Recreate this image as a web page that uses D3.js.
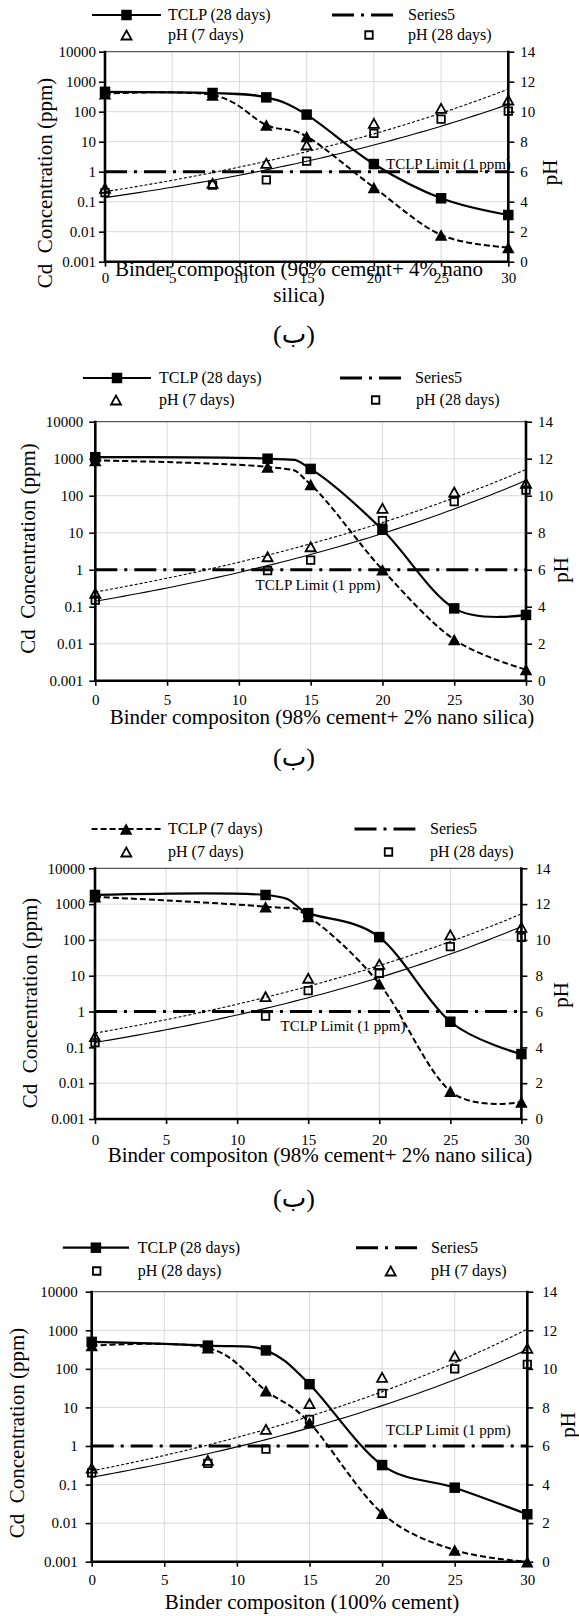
<!DOCTYPE html>
<html>
<head>
<meta charset="utf-8">
<script src="https://cdn.jsdelivr.net/npm/d3@7"></script>
<style>
  body { margin: 0; background: #fff; }
  svg { display: block; }
  svg text { font-family: "Liberation Serif", "Times New Roman", serif; fill: #000; }
</style>
</head>
<body>
<svg id="chart" width="579" height="1616" font-family="Liberation Serif"></svg>
<script>
// ---- shared axis ticks ----
const binderTicks = [0, 5, 10, 15, 20, 25, 30];
const concTicks = [0.001, 0.01, 0.1, 1, 10, 100, 1000, 10000];
const phTicks = [0, 2, 4, 6, 8, 10, 12, 14];
const tclpLimit = 1;

// ---- 96% cement + 4% nano silica ----
const xA = [0, 8, 12, 15, 20, 25, 30];
const tclp28A = [460, 420, 300, 80, 1.8, 0.13, 0.036];
const tclp7A = [400, 360, 36, 15, 0.3, 0.0078, 0.003];
const ph7A = [4.89, 5.22, 6.56, 7.78, 9.22, 10.22, 10.78];
const ph28A = [4.6, 5.11, 5.45, 6.71, 8.56, 9.51, 10.04];

// ---- 98% cement + 2% nano silica (TCLP 28 days legend) ----
const xB = [0, 12, 15, 20, 25, 30];
const tclp28B = [1100, 1000, 530, 12, 0.09, 0.06];
const tclp7B = [900, 600, 200, 1.0, 0.013, 0.002];
const ph7B = [4.72, 6.7, 7.24, 9.32, 10.2, 10.67];
const ph28B = [4.36, 5.95, 6.52, 8.65, 9.68, 10.3];

// ---- 98% cement + 2% nano silica (TCLP 7 days legend) ----
const xC = [0, 12, 15, 20, 25, 30];
const tclp28C = [1800, 1800, 560, 120, 0.52, 0.065];
const tclp7C = [1600, 850, 450, 6, 0.006, 0.003];
const ph7C = [4.6, 6.83, 7.86, 8.64, 10.28, 10.7];
const ph28C = [4.26, 5.75, 7.17, 8.14, 9.63, 10.15];

// ---- 100% cement ----
const xD = [0, 8, 12, 15, 20, 25, 30];
const tclp28D = [500, 400, 300, 40, 0.32, 0.083, 0.017];
const tclp7D = [400, 350, 27, 4, 0.018, 0.002, 0.001];
const ph7D = [4.85, 5.25, 6.86, 8.2, 9.56, 10.66, 11.06];
const ph28D = [4.61, 5.1, 5.84, 7.38, 8.73, 10.0, 10.23];

const SERIF = '"Liberation Serif", "Times New Roman", serif';
const svg = d3.select("#chart");
svg.append("rect").attr("width", 579).attr("height", 1616).attr("fill", "#fff");

// Exponential least-squares trendline: ln(y) = a + b x
function expFit(xs, ys) {
  const ly = ys.map(Math.log);
  const mx = d3.mean(xs), my = d3.mean(ly);
  let sxy = 0, sxx = 0;
  xs.forEach((x, i) => { sxy += (x - mx) * (ly[i] - my); sxx += (x - mx) * (x - mx); });
  const b = sxy / sxx, a = my - b * mx;
  return x => Math.exp(a + b * x);
}

function squarePath(s) { return `M${-s/2},${-s/2}h${s}v${s}h${-s}Z`; }
function triPath(w, h) { return `M0,${-h/2}L${w/2},${h/2}L${-w/2},${h/2}Z`; }

function drawMarker(g, kind, x, y) {
  if (kind === "sqFill") {
    g.append("path").attr("d", squarePath(10.5)).attr("transform", `translate(${x},${y})`)
      .attr("fill", "#000");
  } else if (kind === "triFill") {
    g.append("path").attr("d", triPath(12.5, 11.5)).attr("transform", `translate(${x},${y})`)
      .attr("fill", "#000");
  } else if (kind === "triOpen") {
    g.append("path").attr("d", triPath(10, 9)).attr("transform", `translate(${x},${y})`)
      .attr("fill", "none").attr("stroke", "#000").attr("stroke-width", 1.8);
  } else if (kind === "sqOpen") {
    g.append("path").attr("d", squarePath(7.5)).attr("transform", `translate(${x},${y})`)
      .attr("fill", "none").attr("stroke", "#000").attr("stroke-width", 1.8);
  }
}

function addText(g, size) {
  return g.append("text").attr("font-family", SERIF).style("font-family", SERIF)
    .style("font-size", size + "px").attr("fill", "#000");
}

const limitDash = "22,7,3,7";

function drawPanel(p) {
  const g = svg.append("g");
  const x = d3.scaleLinear().domain([0, 30]).range([p.left, p.right]);
  const yC = d3.scaleLog().domain([0.001, 10000]).range([p.bottom, p.top]);
  const yP = d3.scaleLinear().domain([0, 14]).range([p.bottom, p.top]);

  // gridlines
  g.selectAll(null).data(concTicks.slice(1, -1)).join("line")
    .attr("x1", p.left).attr("x2", p.right)
    .attr("y1", d => yC(d)).attr("y2", d => yC(d))
    .attr("stroke", "#d9d9d9").attr("stroke-width", 1);
  g.selectAll(null).data(binderTicks.slice(1, -1)).join("line")
    .attr("y1", p.top).attr("y2", p.bottom)
    .attr("x1", d => x(d)).attr("x2", d => x(d))
    .attr("stroke", "#d9d9d9").attr("stroke-width", 1);
  g.append("line").attr("x1", p.left).attr("x2", p.right)
    .attr("y1", p.top).attr("y2", p.top).attr("stroke", "#595959").attr("stroke-width", 1.3);

  // axes (ticks and labels), axis lines drawn separately below
  const left = d3.axisLeft(yC).tickValues(concTicks).tickFormat(d => String(d)).tickSize(6).tickPadding(p.padL);
  const right = d3.axisRight(yP).tickValues(phTicks).tickSize(6).tickPadding(p.padR);
  const bottom = d3.axisBottom(x).tickValues(binderTicks).tickSize(5).tickPadding(p.padB);
  [[left, `translate(${p.left},0)`], [right, `translate(${p.right},0)`], [bottom, `translate(0,${p.bottom})`]]
    .forEach(([ax, tr]) => {
      const a = g.append("g").attr("transform", tr).call(ax).attr("font-family", SERIF);
      a.select(".domain").remove();
      a.selectAll(".tick line").attr("stroke", "#000").attr("stroke-width", 1.6);
      a.selectAll(".tick text").style("font-family", SERIF).style("font-size", "15px").attr("fill", "#000");
    });
  g.append("line").attr("x1", p.left).attr("x2", p.left).attr("y1", p.top - 1).attr("y2", p.bottom + 1)
    .attr("stroke", "#000").attr("stroke-width", 2.6);
  g.append("line").attr("x1", p.right).attr("x2", p.right).attr("y1", p.top - 1).attr("y2", p.bottom + 1)
    .attr("stroke", "#000").attr("stroke-width", 2.6);
  g.append("line").attr("x1", p.left).attr("x2", p.right).attr("y1", p.bottom).attr("y2", p.bottom)
    .attr("stroke", "#000").attr("stroke-width", 2.6);

  // exponential trendlines for pH
  const fit7 = expFit(p.xs, p.ph7), fit28 = expFit(p.xs, p.ph28);
  const tx = d3.range(0, 30.01, 0.5);
  const trend = d3.line().x(d => x(d[0])).y(d => yP(d[1]));
  g.append("path").attr("d", trend(tx.map(v => [v, fit28(v)])))
    .attr("fill", "none").attr("stroke", "#000").attr("stroke-width", 1.1);
  g.append("path").attr("d", trend(tx.map(v => [v, fit7(v)])))
    .attr("fill", "none").attr("stroke", "#000").attr("stroke-width", 1.1).attr("stroke-dasharray", "3,2");

  // TCLP limit (Series5)
  g.append("line").attr("x1", x(0)).attr("x2", x(30)).attr("y1", yC(tclpLimit)).attr("y2", yC(tclpLimit))
    .attr("stroke", "#000").attr("stroke-width", 3).attr("stroke-dasharray", limitDash);
  addText(g, 15).attr("x", p.limitX).attr("y", p.limitY).attr("text-anchor", p.limitAnchor)
    .text("TCLP Limit (1 ppm)");

  // smoothed TCLP curves
  const smooth = d3.line().x(d => x(d[0])).y(d => yC(d[1])).curve(d3.curveCardinal.tension(0));
  g.append("path").attr("d", smooth(p.xs.map((v, i) => [v, p.t7[i]])))
    .attr("fill", "none").attr("stroke", "#000").attr("stroke-width", 2).attr("stroke-dasharray", "6,3");
  g.append("path").attr("d", smooth(p.xs.map((v, i) => [v, p.t28[i]])))
    .attr("fill", "none").attr("stroke", "#000").attr("stroke-width", 2.2);

  // markers
  p.xs.forEach((v, i) => drawMarker(g, "sqOpen", x(v), yP(p.ph28[i])));
  p.xs.forEach((v, i) => drawMarker(g, "triOpen", x(v), yP(p.ph7[i])));
  p.xs.forEach((v, i) => drawMarker(g, "triFill", x(v), yC(p.t7[i])));
  p.xs.forEach((v, i) => drawMarker(g, "sqFill", x(v), yC(p.t28[i])));

  // axis titles
  addText(g, 21).attr("transform", `translate(${p.yTitle[0]},${p.yTitle[1]}) rotate(-90)`)
    .attr("text-anchor", "middle").attr("dy", "0.35em").style("white-space", "pre")
    .text("Cd  Concentration (ppm)");
  addText(g, 21).attr("transform", `translate(${p.phTitle[0]},${p.phTitle[1]}) rotate(-90)`)
    .attr("text-anchor", "middle").attr("dy", "0.35em").text("pH");
  p.xTitle.forEach(([t, cx, by]) => {
    addText(g, 21).attr("x", cx).attr("y", by).attr("text-anchor", "middle").text(t);
  });
  if (p.caption) {
    g.append("text").attr("x", p.caption[0]).attr("y", p.caption[1]).attr("text-anchor", "middle")
      .style("font-family", '"Liberation Serif", "DejaVu Serif", "DejaVu Sans", serif')
      .style("font-size", "26px").attr("dy", "0.35em").text("(ب)");
  }

  // legend
  p.legend.forEach(it => {
    const ly = p.legendRows[it.row];
    if (it.type === "tclp28") {
      g.append("line").attr("x1", it.x0).attr("x2", it.x1).attr("y1", ly).attr("y2", ly)
        .attr("stroke", "#000").attr("stroke-width", 2.2);
      drawMarker(g, "sqFill", (it.x0 + it.x1) / 2, ly);
    } else if (it.type === "tclp7") {
      g.append("line").attr("x1", it.x0).attr("x2", it.x1).attr("y1", ly).attr("y2", ly)
        .attr("stroke", "#000").attr("stroke-width", 2).attr("stroke-dasharray", "6,3");
      drawMarker(g, "triFill", (it.x0 + it.x1) / 2, ly);
    } else if (it.type === "limit") {
      g.append("line").attr("x1", it.x0).attr("x2", it.x1).attr("y1", ly).attr("y2", ly)
        .attr("stroke", "#000").attr("stroke-width", 3).attr("stroke-dasharray", limitDash);
    } else if (it.type === "ph7") {
      drawMarker(g, "triOpen", it.cx, ly);
    } else if (it.type === "ph28") {
      drawMarker(g, "sqOpen", it.cx, ly);
    }
    addText(g, 16).attr("x", it.tx).attr("y", ly).attr("dy", "0.33em").text(it.label);
  });
}

const panels = [
  {
    xs: xA, t28: tclp28A, t7: tclp7A, ph7: ph7A, ph28: ph28A,
    left: 105, right: 508.3, top: 51.7, bottom: 261.7, padL: 3, padR: 6, padB: 6,
    limitX: 386, limitY: 168.5, limitAnchor: "start",
    yTitle: [45, 183], phTitle: [550, 172.5],
    xTitle: [["Binder compositon (96% cement+ 4% nano", 299, 276], ["silica)", 299, 302]],
    caption: [294, 334],
    legendRows: [15, 35],
    legend: [
      { type: "tclp28", x0: 92, x1: 161, tx: 168, row: 0, label: "TCLP (28 days)" },
      { type: "limit", x0: 332, x1: 397, tx: 408, row: 0, label: "Series5" },
      { type: "ph7", cx: 126.5, tx: 168, row: 1, label: "pH (7 days)" },
      { type: "ph28", cx: 369, tx: 408, row: 1, label: "pH (28 days)" }
    ]
  },
  {
    xs: xB, t28: tclp28B, t7: tclp7B, ph7: ph7B, ph28: ph28B,
    left: 95.3, right: 526, top: 421.7, bottom: 680.7, padL: 6, padR: 6, padB: 9,
    limitX: 318, limitY: 590, limitAnchor: "middle",
    yTitle: [28, 548.5], phTitle: [561, 570],
    xTitle: [["Binder compositon (98% cement+ 2% nano silica)", 322, 723.5]],
    caption: [294, 757],
    legendRows: [378, 400],
    legend: [
      { type: "tclp28", x0: 83, x1: 151, tx: 159, row: 0, label: "TCLP (28 days)" },
      { type: "limit", x0: 340, x1: 401, tx: 415, row: 0, label: "Series5" },
      { type: "ph7", cx: 116, tx: 159, row: 1, label: "pH (7 days)" },
      { type: "ph28", cx: 375.6, tx: 416, row: 1, label: "pH (28 days)" }
    ]
  },
  {
    xs: xC, t28: tclp28C, t7: tclp7C, ph7: ph7C, ph28: ph28C,
    left: 95, right: 521.4, top: 868.3, bottom: 1119, padL: 4, padR: 8, padB: 10,
    limitX: 343, limitY: 1031, limitAnchor: "middle",
    yTitle: [29.5, 1003], phTitle: [561, 995],
    xTitle: [["Binder compositon (98% cement+ 2% nano silica)", 320, 1162]],
    caption: [294, 1198],
    legendRows: [829, 852],
    legend: [
      { type: "tclp7", x0: 91.6, x1: 160.6, tx: 168, row: 0, label: "TCLP (7 days)" },
      { type: "limit", x0: 354.5, x1: 415.4, tx: 430, row: 0, label: "Series5" },
      { type: "ph7", cx: 126.3, tx: 168, row: 1, label: "pH (7 days)" },
      { type: "ph28", cx: 388.5, tx: 430, row: 1, label: "pH (28 days)" }
    ]
  },
  {
    xs: xD, t28: tclp28D, t7: tclp7D, ph7: ph7D, ph28: ph28D,
    left: 91.7, right: 527.3, top: 1291.7, bottom: 1561.7, padL: 8, padR: 9, padB: 8,
    limitX: 386, limitY: 1435, limitAnchor: "start",
    yTitle: [17, 1433], phTitle: [568, 1425],
    xTitle: [["Binder compositon (100% cement)", 312, 1609]],
    caption: null,
    legendRows: [1247.7, 1271],
    legend: [
      { type: "tclp28", x0: 62.8, x1: 129, tx: 137.7, row: 0, label: "TCLP (28 days)" },
      { type: "limit", x0: 356, x1: 417, tx: 431, row: 0, label: "Series5" },
      { type: "ph28", cx: 96.7, tx: 137.7, row: 1, label: "pH (28 days)" },
      { type: "ph7", cx: 390.7, tx: 431, row: 1, label: "pH (7 days)" }
    ]
  }
];

panels.forEach(drawPanel);
</script>
</body>
</html>
